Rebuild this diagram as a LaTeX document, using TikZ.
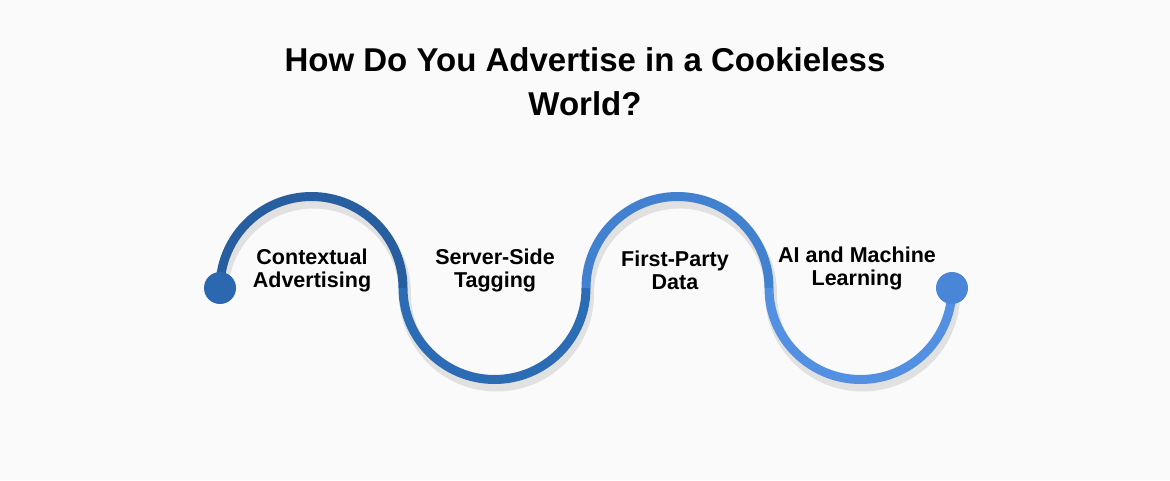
\documentclass[tikz,border=0pt]{standalone}
\usepackage{fontspec}
\setmainfont{Liberation Sans}
\begin{document}
\begin{tikzpicture}[x=1pt,y=1pt,
  lbl/.style={font=\bfseries\fontsize{21.5}{23}\selectfont,align=center,text=black},
  dotnode/.style={circle,minimum size=32pt,inner sep=0pt},
  wave/.style={line width=9pt},
  shade/.style={line width=12pt,draw=black!18,opacity=0.6}]
\fill[white!98!black] (0,0) rectangle (1170,480);
\node[font=\bfseries\fontsize{33}{44}\selectfont,align=center] (title) at (585,398) {How Do You Advertise in a Cookieless\\World?};
% shadow
\draw[shade] (222,186) arc (180:0:91.5) arc (180:360:91.5) arc (180:0:91.5) arc (180:360:91.5);
% wave
\coordinate (p0) at (220,192);
\coordinate (p1) at (403,192);
\coordinate (p2) at (586,192);
\coordinate (p3) at (769,192);
\coordinate (p4) at (952,192);
\draw[wave,draw={rgb,255:red,38;green,94;blue,160}] (p0) arc (180:0:91.5);
\draw[wave,draw={rgb,255:red,44;green,108;blue,180}] (p1) arc (180:360:91.5);
\draw[wave,draw={rgb,255:red,66;green,128;blue,208}] (p2) arc (180:0:91.5);
\draw[wave,draw={rgb,255:red,84;green,144;blue,226}] (p3) arc (180:360:91.5);
\node[dotnode,fill={rgb,255:red,44;green,104;blue,176}] (d0) at (p0) {};
\node[dotnode,fill={rgb,255:red,74;green,134;blue,216}] (d1) at (p4) {};
\node[lbl] (l1) at (312,210) {Contextual\\Advertising};
\node[lbl] (l2) at (495,210) {Server-Side\\Tagging};
\node[lbl] (l3) at (675,210) {First-Party\\Data};
\node[lbl] (l4) at (857,212) {AI and Machine\\Learning};
\end{tikzpicture}
\end{document}
